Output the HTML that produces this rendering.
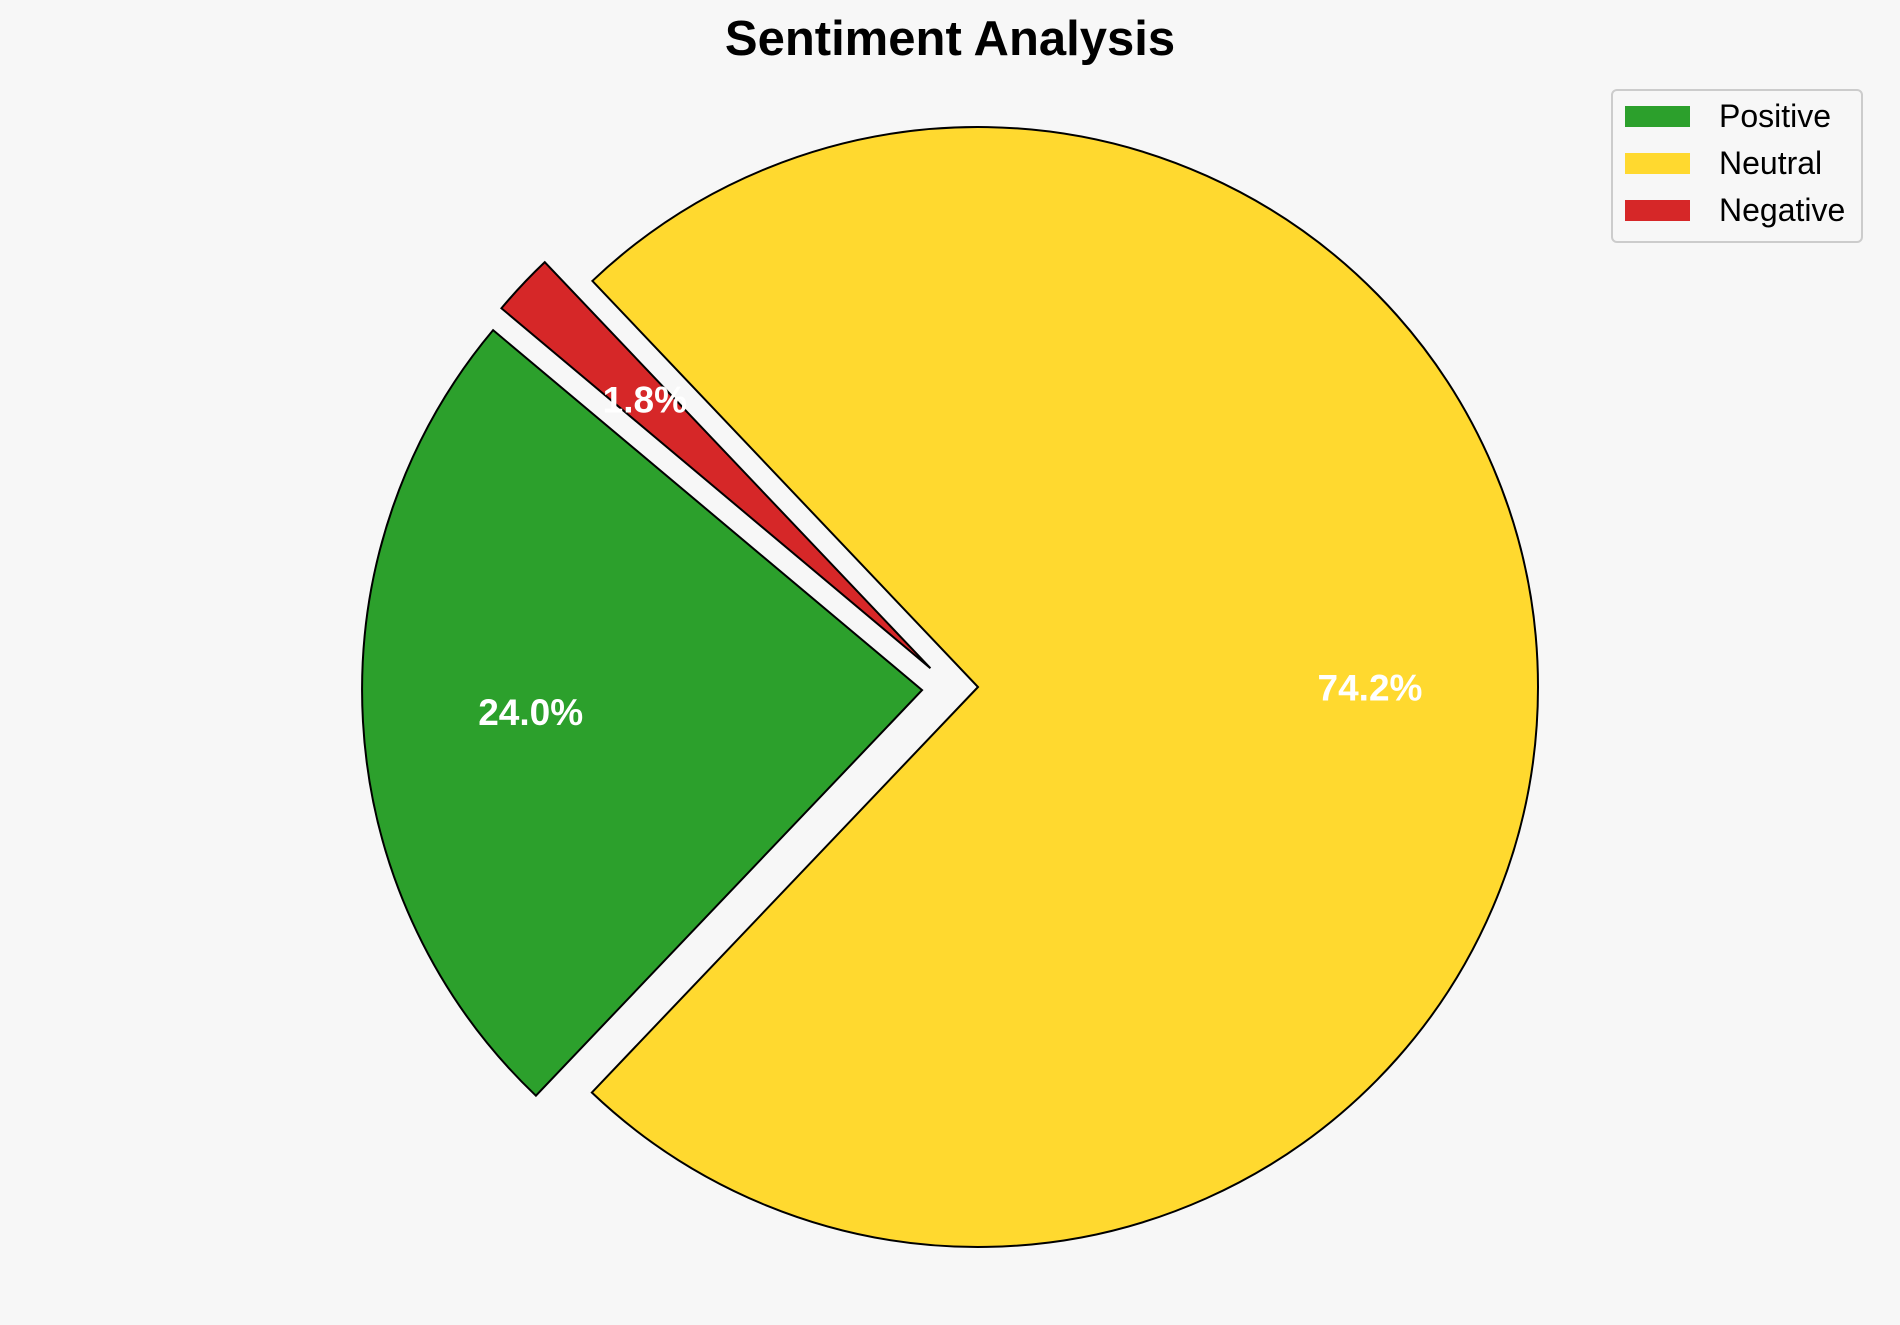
<!DOCTYPE html>
<html><head><meta charset="utf-8"><style>
html,body{margin:0;padding:0;background:#f7f7f7;}
svg{display:block;font-family:"Liberation Sans",Arial,sans-serif;}
</style></head><body>
<svg id="chart" width="1900" height="1325" viewBox="0 0 1900 1325">
<rect width="1900" height="1325" fill="#f7f7f7"/>
<text x="950" y="55" text-anchor="middle" font-size="49" font-weight="bold" fill="#000">Sentiment Analysis</text>
<g id="slices"></g>
<g>
<rect x="1612" y="90" width="250" height="152" rx="5" fill="#f7f7f7" stroke="#ccc" stroke-width="2"/>
<g id="legend"></g>
</g>
</svg>
<script>
const categories = ["Positive","Neutral","Negative"];
const values = [24.0, 74.2, 1.8];
const explode = [0.1, 0, 0.075];
const colors = ["#2ca02c","#ffd92f","#d62728"];
const nudgeX = [0, 0, -17], nudgeY = [0, 0, 10];
const cx=978, cy=687, R=560, startAngle=140, pctDist=0.7;
const NS="http://www.w3.org/2000/svg";
const total=values.reduce((a,b)=>a+b,0);
const g=document.getElementById('slices');
let a0=startAngle;
values.forEach((v,i)=>{
  const span=v/total*360, a1=a0+span, mid=(a0+a1)/2*Math.PI/180;
  const ox=cx+explode[i]*R*Math.cos(mid)+nudgeX[i], oy=cy-explode[i]*R*Math.sin(mid)+nudgeY[i];
  const r0=a0*Math.PI/180, r1=a1*Math.PI/180;
  const x0=ox+R*Math.cos(r0), y0=oy-R*Math.sin(r0), x1=ox+R*Math.cos(r1), y1=oy-R*Math.sin(r1);
  const p=document.createElementNS(NS,'path');
  p.setAttribute('d',`M${ox},${oy} L${x0},${y0} A${R},${R} 0 ${span>180?1:0} 0 ${x1},${y1} Z`);
  p.setAttribute('fill',colors[i]);p.setAttribute('stroke','#000');p.setAttribute('stroke-width','2');
  
  
  g.appendChild(p);
  const t=document.createElementNS(NS,'text');
  t.setAttribute('x',ox+pctDist*R*Math.cos(mid));t.setAttribute('y',oy-pctDist*R*Math.sin(mid)+13);
  t.setAttribute('text-anchor','middle');t.setAttribute('font-size','37');t.setAttribute('font-weight','bold');t.setAttribute('fill','#fff');
  t.textContent=v.toFixed(1)+'%';
  
  
  g.appendChild(t);
  a0=a1;
});
const lg=document.getElementById('legend');
categories.forEach((c,i)=>{
  const y=116+i*47;
  const r=document.createElementNS(NS,'rect');
  r.setAttribute('x',1625);r.setAttribute('y',y-10);r.setAttribute('width',65);r.setAttribute('height',21);r.setAttribute('fill',colors[i]);
  
  
  lg.appendChild(r);
  const t=document.createElementNS(NS,'text');
  t.setAttribute('x',1719);t.setAttribute('y',y+11);t.setAttribute('font-size','32');t.setAttribute('fill','#000');
  t.textContent=c;
  
  
  lg.appendChild(t);
});
</script>
</body></html>
